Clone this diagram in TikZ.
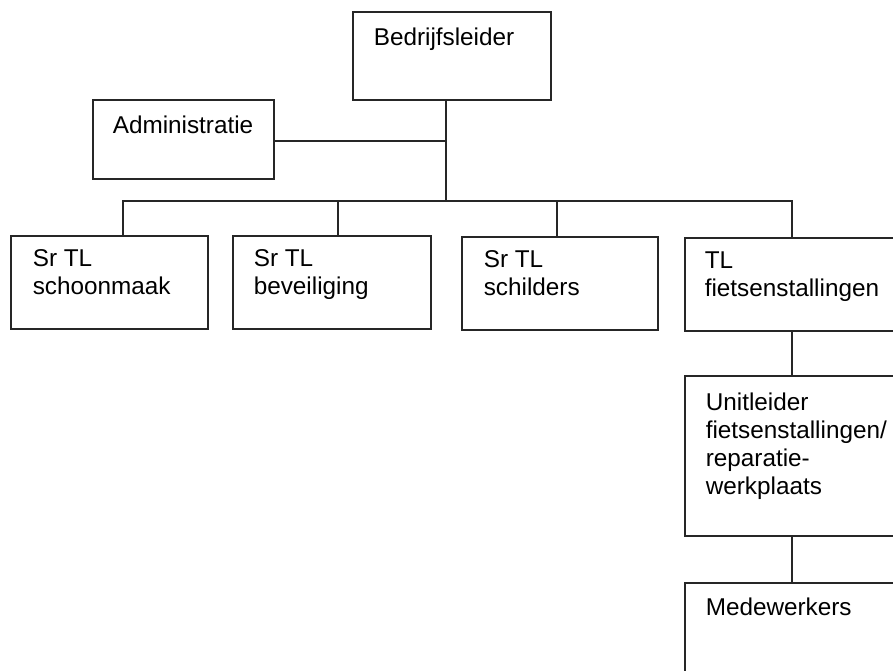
\documentclass[tikz,border=0pt]{standalone}
\usepackage{fontspec}
\setmainfont{Liberation Sans}
\newcommand{\lines}[1]{\begin{tabular}[t]{@{}l@{}}#1\end{tabular}}
\begin{document}
\begin{tikzpicture}[x=1pt,y=-1pt,line width=1.6pt,
  box/.style={draw=black!85, rectangle, anchor=north west, inner sep=0pt},
  lbl/.style={anchor=base west, inner sep=0pt, text=black, font=\fontsize{24.3}{28}\selectfont},
  conn/.style={draw=black!85}]
\useasboundingbox (0,0) rectangle (893,670);
\clip (0,0) rectangle (893,670);
\fill[white] (0,0) rectangle (893,670);
% boxes
\node[box, minimum width=198pt, minimum height=88pt] (boss) at (352,11) {};
\node[box, minimum width=181pt, minimum height=79pt] (adm) at (92,99) {};
\node[box, minimum width=197pt, minimum height=93pt] (s1) at (10,235) {};
\node[box, minimum width=198pt, minimum height=93pt] (s2) at (232,235) {};
\node[box, minimum width=196pt, minimum height=93pt] (s3) at (461,236) {};
\node[box, minimum width=230pt, minimum height=93pt] (s4) at (684,237) {};
\node[box, minimum width=230pt, minimum height=160pt] (unit) at (684,375) {};
\node[box, minimum width=230pt, minimum height=120pt] (mede) at (684,582) {};
% labels
\node[lbl] (tboss) at (373,45) {Bedrijfsleider};
\node[lbl] (tadm) at (112,133) {Administratie};
\node[lbl] (ts1) at (32,266) {\lines{Sr TL\\schoonmaak}};
\node[lbl] (ts2) at (253,266) {\lines{Sr TL\\beveiliging}};
\node[lbl] (ts3) at (483,267) {\lines{Sr TL\\schilders}};
\node[lbl] (ts4) at (704,268) {\lines{TL\\fietsenstallingen}};
\node[lbl] (tunit) at (705,410) {\lines{Unitleider\\fietsenstallingen/\\reparatie-\\werkplaats}};
\node[lbl] (tmede) at (705,615) {Medewerkers};
% junction coordinates
\coordinate (trunk) at (446,201);
\coordinate (admj) at (446,141);
\coordinate (b1) at (123,201);
\coordinate (b2) at (338,201);
\coordinate (b3) at (557,201);
\coordinate (b4) at (792,201);
% connectors
\draw[conn] (boss.south -| trunk) -- (trunk);
\draw[conn] (admj -| adm.east) -- (admj);
\draw[conn] (b1 |- s1.north) -- (b1) -- (b4) -- (b4 |- s4.north);
\draw[conn] (b2) -- (b2 |- s2.north);
\draw[conn] (b3) -- (b3 |- s3.north);
\draw[conn] (b4 |- s4.south) -- (b4 |- unit.north);
\draw[conn] (b4 |- unit.south) -- (b4 |- mede.north);
\end{tikzpicture}
\end{document}
